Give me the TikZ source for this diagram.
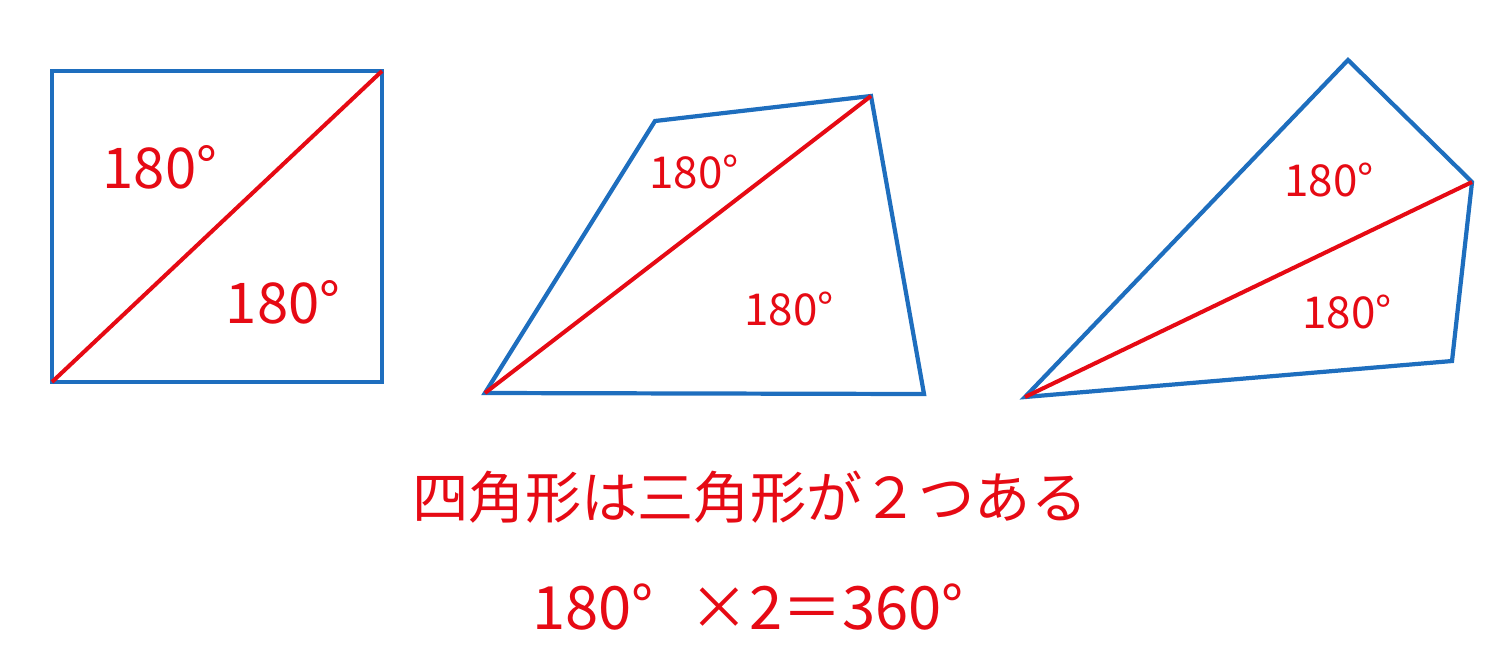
\documentclass[tikz,border=0pt]{standalone}
\usepackage{fontspec}
\setmainfont{Noto Sans CJK JP}
\definecolor{MyBlue}{HTML}{1E6EBE}
\definecolor{MyRed}{HTML}{E60A14}

\begin{document}
\begin{tikzpicture}[x=0.02cm,y=-0.02cm,
    side/.style={draw=MyBlue,line width=2.4pt,line join=miter},
    diag/.style={draw=MyRed,line width=2.3pt},
    biglabel/.style={text=MyRed,inner sep=0pt,font=\fontsize{32}{32}\selectfont},
    smalllabel/.style={text=MyRed,inner sep=0pt,font=\fontsize{25}{25}\selectfont}]
        \useasboundingbox (0,0) rectangle (1500,657);

        \coordinate (A1) at (52,71);
        \coordinate (B1) at (382,71);
        \coordinate (C1) at (382,382);
        \coordinate (D1) at (52,382);
        \draw[side] (A1) -- (B1) -- (C1) -- (D1) -- cycle;
        \draw[diag] (D1) -- (B1);
        \node[biglabel] (up1) at (160,167) {180°};
        \node[biglabel] (lo1) at (283,302) {180°};

        \coordinate (A2) at (655,121);
        \coordinate (B2) at (871,96);
        \coordinate (C2) at (924,394);
        \coordinate (D2) at (485,393);
        \draw[side] (A2) -- (B2) -- (C2) -- (D2) -- cycle;
        \draw[diag] (D2) -- (B2);
        \node[smalllabel] (up2) at (694,172) {180°};
        \node[smalllabel] (lo2) at (789,309) {180°};

        \coordinate (A3) at (1348,60);
        \coordinate (B3) at (1472,182);
        \coordinate (C3) at (1452,361);
        \coordinate (D3) at (1025,397);
        \draw[side] (A3) -- (B3) -- (C3) -- (D3) -- cycle;
        \draw[diag] (D3) -- (B3);
        \node[smalllabel] (up3) at (1329,180) {180°};
        \node[smalllabel] (lo3) at (1347,312) {180°};

        \node[text=MyRed,font=\fontsize{32}{32}\selectfont] (words) at (750,497) {四角形は三角形が２つある};
        \node[text=MyRed,font=\fontsize{34}{34}\selectfont] (sum) at (748,607) {180°\hspace{0.6em}×2＝360°};
    \end{tikzpicture}
\end{document}
